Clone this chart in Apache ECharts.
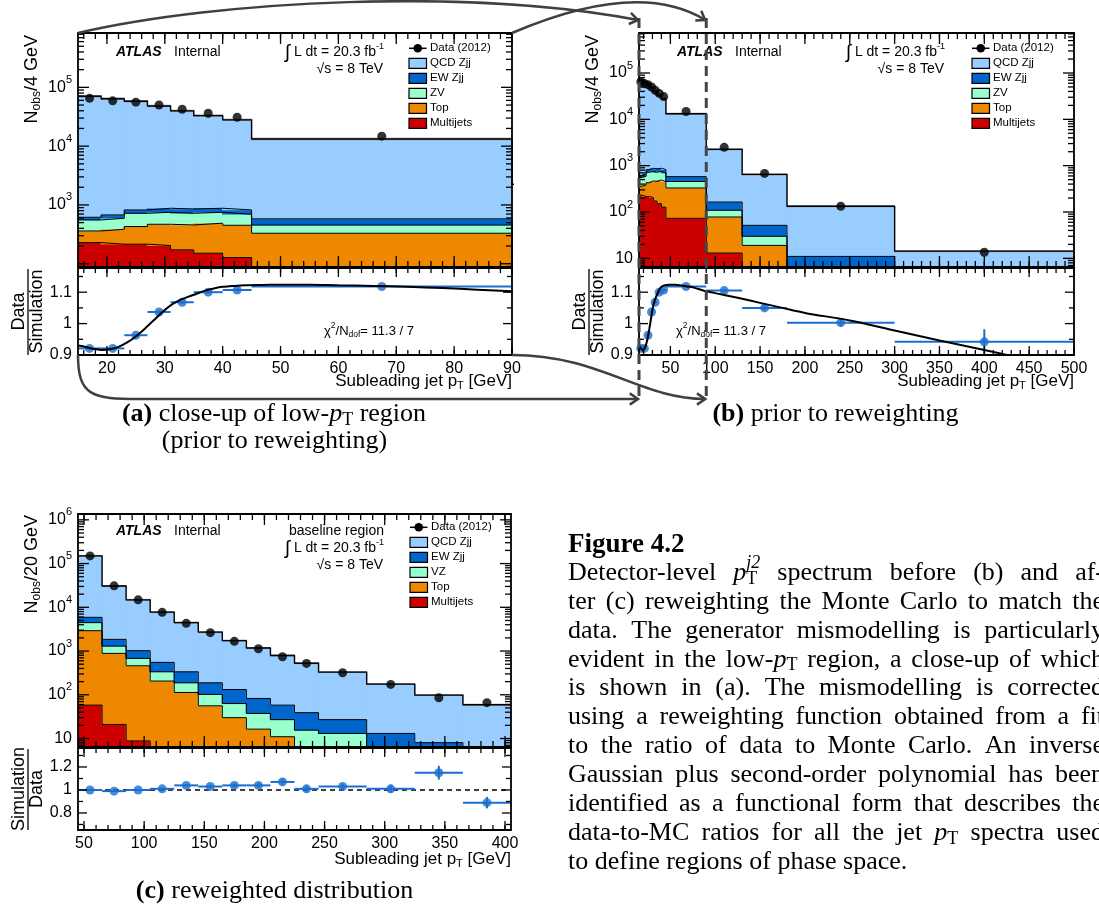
<!DOCTYPE html>
<html>
<head>
<meta charset="utf-8">
<title>Subleading jet pT spectrum</title>
<script src="https://cdn.jsdelivr.net/npm/echarts@6.0.0/dist/echarts.min.js"></script>
<style>
  html, body { margin: 0; padding: 0; background: #fff; }
  #chart { width: 1099px; height: 910px; }
</style>
</head>
<body>
<div id="chart"></div>
<script>
// ---------- spectrum before reweighting (panels a and b), events per 4 GeV ----------
const preEdges    = [15, 19, 23, 27, 31, 35, 40, 45, 90, 130, 180, 300, 500];
const preData     = [65000, 59000, 56000, 50000, 42500, 36300, 31000, 14800, 2490, 680, 133, 13.5];
const preQCD      = [69960, 63380, 57330, 47340, 38940, 32120, 27180, 12660, 2086, 596, 121.6, 9.0];
const preEW       = [61, 83, 101, 128, 134, 128, 128, 125, 55, 21.5, 6.5, 3];
const preZV       = [195, 207, 292, 281, 264, 261, 243, 125, 31, 11, 2, 1];
const preTop      = [132, 171, 214, 265, 285, 338, 324, 257, 65, 18, 2, 1];
const preMJ       = [229, 215, 215, 204, 172, 151, 127, 73, 13, 1, 0.5, 0.3];
const preRatio    = [0.921, 0.921, 0.963, 1.037, 1.068, 1.100, 1.107, 1.118, 1.105, 1.050, 1.003, 0.942];
const preRatioErr = [0.004, 0.004, 0.004, 0.004, 0.005, 0.005, 0.005, 0.004, 0.006, 0.008, 0.012, 0.04];

// fitted reweighting function (data / simulation), sampled along pT
const fitX = [15, 16, 17.5, 19, 20.5, 22, 23.5, 25, 26.5, 28, 29.5, 31, 32.5, 34, 35.5, 37, 38.5, 40, 42, 44,
              47, 50, 55, 60, 66, 72, 78, 84, 90, 100, 125, 150, 175, 200, 250, 300, 350, 400, 430];
const fitY = [0.930, 0.927, 0.920, 0.916, 0.918, 0.926, 0.940, 0.959, 0.983, 1.009, 1.035, 1.058, 1.074, 1.085, 1.095, 1.105, 1.112, 1.117, 1.120, 1.122,
              1.123, 1.124, 1.124, 1.122, 1.120, 1.117, 1.113, 1.108, 1.103, 1.097, 1.082, 1.066, 1.050, 1.034, 1.010, 0.978, 0.946, 0.916, 0.897];

// ---------- spectrum after reweighting (panel c), events per 20 GeV ----------
const postEdges    = [45, 65, 85, 105, 125, 145, 165, 185, 205, 225, 245, 285, 325, 365, 405];
const postData     = [150000, 31000, 14800, 7680, 4300, 2630, 1665, 1130, 740, 522, 319, 173, 85.5, 66];
const postQCD      = [144100, 28850, 13780, 7210, 4134, 2522, 1598, 1093, 734, 488, 302, 162, 90, 54.5];
const postEW       = [1440, 550, 340, 214, 148, 86, 69, 45, 31, 23.5, 14, 8, 5, 3];
const postVZ       = [1540, 415, 219, 130, 75, 46, 33, 21, 16, 11.5, 10, 3, 2, 1];
const postTop      = [2862, 864, 452, 203, 112, 55.5, 29.7, 16.2, 10.9, 4, 3, 2, 1, 0.5];
const postMJ       = [58, 21, 8.8, 3, 1, 0.5, 0.3, 0.2, 0.1, 0.05, 0.05, 0.05, 0.05, 0.05];
const postRatio    = [1.00, 0.99, 1.00, 1.01, 1.04, 1.03, 1.04, 1.04, 1.07, 1.01, 1.03, 1.01, 1.15, 0.89];
const postRatioErr = [0.005, 0.006, 0.008, 0.01, 0.012, 0.015, 0.018, 0.022, 0.028, 0.03, 0.025, 0.035, 0.06, 0.05];

// ---------- tick labels ----------
const lowXLabels      = [20, 30, 40, 50, 60, 70, 80, 90];
const fullXLabels     = [50, 100, 150, 200, 250, 300, 350, 400, 450, 500];
const postXLabels     = [50, 100, 150, 200, 250, 300, 350, 400];
const lowYLabels      = [1e3, 1e4, 1e5];
const fullYLabels     = [10, 1e2, 1e3, 1e4, 1e5];
const postYLabels     = [10, 1e2, 1e3, 1e4, 1e5, 1e6];
const ratioLabels     = [0.9, 1, 1.1];
const postRatioLabels = [0.8, 1, 1.2];

const preNames  = ['QCD Zjj', 'EW Zjj', 'ZV', 'Top', 'Multijets'];
const postNames = ['QCD Zjj', 'EW Zjj', 'VZ', 'Top', 'Multijets'];

// ---------- styling ----------
const SANS  = '"Liberation Sans", Arial, Helvetica, sans-serif';
const SERIF = '"Liberation Serif", "Times New Roman", serif';
const COL = { qcd: '#99ccff', ew: '#0066cc', zv: '#99ffcc', top: '#ee8800', mj: '#cc0000' };
const stackColors = [COL.mj, COL.top, COL.zv, COL.ew, COL.qcd];      // bottom -> top
const legendColors = [COL.qcd, COL.ew, COL.zv, COL.top, COL.mj];
const RATIO_BLUE = '#1a6ecf';

const chart = echarts.init(document.getElementById('chart'), null, { renderer: 'canvas' });
const grids = [], xAxis = [], yAxis = [], series = [];

const logRich = {
  b: { fontSize: 16, fontFamily: SANS, color: '#000', padding: [5, 0, 5, 0] },
  e: { fontSize: 11, fontFamily: SANS, color: '#000', verticalAlign: 'top' }
};
const logFmt = v => {
  const e = Math.round(Math.log10(v));
  return e === 1 ? '{b|10}' : '{b|10}{e|' + e + '}';
};
const linFmt = v => String(Math.round(v * 100) / 100);

function addGrid(r, xr, yr, log, xLab, yLab) {
  const i = grids.length;
  grids.push({ left: r.l, top: r.t, width: r.w, height: r.h, show: false });
  xAxis.push({
    type: 'value', gridIndex: i, min: xr[0], max: xr[1],
    axisLine: { show: false }, axisTick: { show: false }, splitLine: { show: false },
    axisLabel: xLab ? { show: true, customValues: xLab, color: '#000', fontSize: 16, fontFamily: SANS, margin: 6 } : { show: false }
  });
  yAxis.push({
    type: log ? 'log' : 'value', logBase: 10, gridIndex: i, min: yr[0], max: yr[1],
    axisLine: { show: false }, axisTick: { show: false }, splitLine: { show: false },
    axisLabel: {
      show: true, customValues: yLab, color: '#000', fontSize: 16, fontFamily: SANS, margin: 6,
      formatter: log ? logFmt : linFmt, rich: log ? logRich : undefined
    }
  });
  return i;
}

// frame and tick marks on all four sides of a pad
function frameSeries(gi, xr, yr, xMaj, xMin, yMaj, yMin, lx, ly) {
  const d = [[xr[0], yr[0], 2, 0]];
  xMaj.forEach(v => d.push([v, yr[0], 0, lx[0]]));
  xMin.forEach(v => d.push([v, yr[0], 0, lx[1]]));
  yMaj.forEach(v => d.push([xr[0], v, 1, ly[0]]));
  yMin.forEach(v => d.push([xr[0], v, 1, ly[1]]));
  return {
    type: 'custom', xAxisIndex: gi, yAxisIndex: gi, z: 10, silent: true, clip: false, animation: false,
    data: d, encode: { x: 0, y: 1 },
    renderItem(params, api) {
      const cs = params.coordSys;
      const kind = api.value(2), len = api.value(3);
      const st = { stroke: '#000', lineWidth: 1.3 };
      if (kind === 2) {
        return { type: 'rect', shape: { x: cs.x, y: cs.y, width: cs.width, height: cs.height },
                 style: { fill: 'transparent', stroke: '#000', lineWidth: 1.8 } };
      }
      const p = api.coord([api.value(0), api.value(1)]);
      if (kind === 0) {
        const b = cs.y + cs.height;
        return { type: 'group', children: [
          { type: 'line', shape: { x1: p[0], y1: b, x2: p[0], y2: b - len }, style: st },
          { type: 'line', shape: { x1: p[0], y1: cs.y, x2: p[0], y2: cs.y + len }, style: st }
        ] };
      }
      const r = cs.x + cs.width;
      return { type: 'group', children: [
        { type: 'line', shape: { x1: cs.x, y1: p[1], x2: cs.x + len, y2: p[1] }, style: st },
        { type: 'line', shape: { x1: r, y1: p[1], x2: r - len, y2: p[1] }, style: st }
      ] };
    }
  };
}

function range(a, b, step) { const o = []; for (let v = a; v <= b + 1e-9; v += step) o.push(+v.toFixed(6)); return o; }
function logMinors(yr) {
  const o = [];
  for (let d = Math.floor(Math.log10(yr[0])); d <= Math.ceil(Math.log10(yr[1])); d++)
    for (let m = 2; m <= 9; m++) { const v = m * Math.pow(10, d); if (v > yr[0] && v < yr[1]) o.push(v); }
  return o;
}
function logMajors(yr) {
  const o = [];
  for (let d = Math.ceil(Math.log10(yr[0])); d <= Math.floor(Math.log10(yr[1])); d++) o.push(Math.pow(10, d));
  return o;
}

// filled histogram rectangles (overlapped by half a pixel so neighbouring bins join cleanly)
function rectSeries(gi, items, colors, yr, z) {
  return {
    type: 'custom', xAxisIndex: gi, yAxisIndex: gi, silent: true, animation: false, z: z,
    data: items, encode: { x: [0, 1], y: [2, 3] }, clip: true,
    renderItem(params, api) {
      const lo = Math.max(api.value(2), yr[0]);
      const hi = Math.min(api.value(3), yr[1]);
      if (!(hi > lo)) return null;
      const a = api.coord([api.value(0), lo]);
      const b = api.coord([api.value(1), hi]);
      return { type: 'rect', shape: { x: a[0] - 0.6, y: b[1] - 0.3, width: b[0] - a[0] + 1.2, height: a[1] - b[1] + 0.6 },
               style: { fill: colors[api.value(4)] } };
    }
  };
}
function stepSeries(gi, edges, vals, yr, color, width, z) {
  const pts = [];
  vals.forEach((v, i) => {
    const y = Math.min(Math.max(v, yr[0]), yr[1]);
    pts.push([edges[i], y], [edges[i + 1], y]);
  });
  return { type: 'line', xAxisIndex: gi, yAxisIndex: gi, data: pts, symbol: 'none', silent: true,
           animation: false, z: z, clip: true, lineStyle: { color: color, width: width } };
}

// stacked simulation + data for one main pad
function mainPad(gi, edges, comps, data, yr) {
  const n = edges.length - 1;
  const items = [], levels = comps.map(() => []);
  for (let i = 0; i < n; i++) {
    let lo = 1e-3;
    comps.forEach((c, k) => { const hi = lo + c[i]; items.push([edges[i], edges[i + 1], lo, hi, k]); levels[k].push(hi); lo = hi; });
  }
  const total = levels[levels.length - 1];
  series.push(rectSeries(gi, items, stackColors, yr, 1));
  for (let k = 0; k < levels.length - 1; k++) series.push(stepSeries(gi, edges, levels[k], yr, '#000', 1, 2));
  series.push(rectSeries(gi, total.map((t, i) => [edges[i], edges[i + 1], t / 1.035, t * 1.035, 0]), ['#8c8c8c'], yr, 3));
  series.push(stepSeries(gi, edges, total, yr, '#000', 1.4, 4));
  series.push({
    type: 'scatter', xAxisIndex: gi, yAxisIndex: gi, silent: true, animation: false, z: 5, clip: true,
    symbol: 'circle', symbolSize: 9, itemStyle: { color: '#000' },
    data: data.map((v, i) => [(edges[i] + edges[i + 1]) / 2, v])
  });
}

// ratio points with bin-width and error bars
function ratioPad(gi, edges, vals, errs) {
  const items = vals.map((v, i) => [(edges[i] + edges[i + 1]) / 2, v, edges[i], edges[i + 1], v - errs[i], v + errs[i]]);
  series.push({
    type: 'custom', xAxisIndex: gi, yAxisIndex: gi, silent: true, animation: false, z: 4, clip: true,
    data: items, encode: { x: [0, 2, 3], y: [1, 4, 5] },
    renderItem(params, api) {
      const c = api.coord([api.value(0), api.value(1)]);
      const l = api.coord([api.value(2), api.value(1)]);
      const r = api.coord([api.value(3), api.value(1)]);
      const t = api.coord([api.value(0), api.value(5)]);
      const b = api.coord([api.value(0), api.value(4)]);
      const st = { stroke: RATIO_BLUE, lineWidth: 2 };
      return { type: 'group', children: [
        { type: 'line', shape: { x1: l[0], y1: c[1], x2: r[0], y2: c[1] }, style: st },
        { type: 'line', shape: { x1: c[0], y1: t[1], x2: c[0], y2: b[1] }, style: st }
      ] };
    }
  });
  series.push({
    type: 'scatter', xAxisIndex: gi, yAxisIndex: gi, silent: true, animation: false, z: 5, clip: true,
    symbol: 'circle', symbolSize: 9, itemStyle: { color: RATIO_BLUE },
    data: items.map(it => [it[0], it[1]])
  });
}
function fitLine(gi) {
  series.push({
    type: 'line', xAxisIndex: gi, yAxisIndex: gi, silent: true, animation: false, z: 6, clip: true,
    symbol: 'none', smooth: 0.3, lineStyle: { color: '#000', width: 2 },
    data: fitX.map((x, i) => [x, fitY[i]])
  });
}

// ---------- pads ----------
const lowX = [15, 90], fullX = [15, 500], postX = [45, 405];
const lowY = [88, 8.4e5], fullY = [6.5, 7.3e5], postY = [6.4, 1.36e6];
const ratioY = [0.9, 1.177], postRatioY = [0.652, 1.365];

const padA  = { l: 78,  t: 33,  w: 434, h: 234 };
const padAr = { l: 78,  t: 268, w: 434, h: 87 };
const padB  = { l: 639, t: 33,  w: 435, h: 234 };
const padBr = { l: 639, t: 268, w: 435, h: 87 };
const padC  = { l: 78,  t: 514, w: 433, h: 233 };
const padCr = { l: 78,  t: 748, w: 433, h: 82 };

const gA  = addGrid(padA,  lowX,  lowY,  true,  null,        lowYLabels);
const gAr = addGrid(padAr, lowX,  ratioY, false, lowXLabels, ratioLabels);
const gB  = addGrid(padB,  fullX, fullY, true,  null,        fullYLabels);
const gBr = addGrid(padBr, fullX, ratioY, false, fullXLabels, ratioLabels);
const gC  = addGrid(padC,  postX, postY, true,  null,        postYLabels);
const gCr = addGrid(padCr, postX, postRatioY, false, postXLabels, postRatioLabels);

mainPad(gA, preEdges, [preMJ, preTop, preZV, preEW, preQCD], preData, lowY);
mainPad(gB, preEdges, [preMJ, preTop, preZV, preEW, preQCD], preData, fullY);
mainPad(gC, postEdges, [postMJ, postTop, postVZ, postEW, postQCD], postData, postY);

ratioPad(gAr, preEdges, preRatio, preRatioErr); fitLine(gAr);
ratioPad(gBr, preEdges, preRatio, preRatioErr); fitLine(gBr);
series.push({
  type: 'line', xAxisIndex: gCr, yAxisIndex: gCr, silent: true, animation: false, z: 3, symbol: 'none',
  lineStyle: { color: '#000', width: 1.3, type: [5, 4] }, data: [[postX[0], 1], [postX[1], 1]]
});
ratioPad(gCr, postEdges, postRatio, postRatioErr);

series.push(frameSeries(gA,  lowX,  lowY,  lowXLabels, range(16, 90, 2), logMajors(lowY), logMinors(lowY), [11, 6], [11, 6]));
series.push(frameSeries(gAr, lowX,  ratioY, lowXLabels, range(16, 90, 2), [0.9, 1, 1.1], [0.95, 1.05, 1.15], [9, 5], [9, 5]));
series.push(frameSeries(gB,  fullX, fullY, fullXLabels, range(20, 500, 10), logMajors(fullY), logMinors(fullY), [11, 6], [11, 6]));
series.push(frameSeries(gBr, fullX, ratioY, fullXLabels, range(20, 500, 10), [0.9, 1, 1.1], [0.95, 1.05, 1.15], [9, 5], [9, 5]));
series.push(frameSeries(gC,  postX, postY, postXLabels, range(50, 400, 10), logMajors(postY), logMinors(postY), [11, 6], [11, 6]));
series.push(frameSeries(gCr, postX, postRatioY, postXLabels, range(50, 400, 10), [0.8, 1, 1.2], [0.7, 0.9, 1.1, 1.3], [9, 5], [9, 5]));

chart.setOption({ animation: false, backgroundColor: '#fff', grid: grids, xAxis: xAxis, yAxis: yAxis, series: series });

// ---------- text helpers ----------
const mctx = document.createElement('canvas').getContext('2d');
function fontOf(r, base) {
  const size = r.size || base.size;
  const italic = r.italic !== undefined ? r.italic : base.italic;
  const bold = r.bold !== undefined ? r.bold : base.bold;
  return (italic ? 'italic ' : '') + (bold ? 'bold ' : '') + size + 'px ' + (r.family || base.family);
}
function layoutRuns(runs, base) {
  let cx = 0, prevX = 0;
  const out = [];
  runs.forEach(r => {
    const font = fontOf(r, base);
    mctx.font = font;
    const w = mctx.measureText(r.t).width;
    let px;
    if (r.over) { px = prevX; cx = Math.max(cx, prevX + w); }
    else { px = cx; prevX = cx; cx += w; }
    out.push({ x: px, font: font, t: r.t, dy: r.dy || 0 });
  });
  return { items: out, width: cx };
}
function runText(runs, base, x, y, align) {
  const L = layoutRuns(runs, base);
  const x0 = align === 'right' ? x - L.width : align === 'center' ? x - L.width / 2 : x;
  return L.items.map(it => ({
    type: 'text', silent: true, z: 50, x: x0 + it.x, y: y + it.dy,
    style: { text: it.t, font: it.font, fill: base.fill || '#000', textAlign: 'left', textVerticalAlign: 'middle', align: 'left', verticalAlign: 'middle' }
  }));
}
function rotated(runs, base, x, y) {
  return { type: 'group', x: x, y: y, rotation: Math.PI / 2, silent: true, z: 50, children: runText(runs, base, 0, 0, 'right') };
}
function rotatedCentered(runs, base, x, y) {
  return { type: 'group', x: x, y: y, rotation: Math.PI / 2, silent: true, z: 50, children: runText(runs, base, 0, 0, 'center') };
}
function parseWord(w, subSize) {
  const parts = w.split(/(\$[^$]*\$)/).filter(s => s);
  const runs = [];
  parts.forEach(p => {
    if (p[0] === '$') {
      const m = p.slice(1, -1);
      const sp = m.split('^');
      const bs = sp[0].split('_');
      runs.push({ t: bs[0], italic: true });
      if (bs[1]) runs.push({ t: bs[1], size: subSize, dy: 6, italic: false });
      if (sp[1]) runs.push({ t: sp[1], size: subSize, dy: -10, italic: true, over: true });
    } else runs.push({ t: p });
  });
  return runs;
}
function justified(lines, base, left, right, top, lh, subSize) {
  const els = [];
  mctx.font = fontOf({}, base);
  const space = mctx.measureText(' ').width;
  lines.forEach((line, li) => {
    const words = line.split(/\s+/).map(w => parseWord(w, subSize));
    const lays = words.map(w => layoutRuns(w, base));
    const sum = lays.reduce((s, l) => s + l.width, 0);
    const gap = li === lines.length - 1 ? space : (right - left - sum) / (words.length - 1);
    let x = left;
    const y = top + li * lh;
    words.forEach((w, wi) => { els.push(...runText(w, base, x, y, 'left')); x += lays[wi].width + gap; });
  });
  return els;
}

const g = [];
const sans = (size, extra) => Object.assign({ size: size, family: SANS }, extra || {});
const serif = (size, extra) => Object.assign({ size: size, family: SERIF }, extra || {});

// labels inside each main pad
function padLabels(p, y0, extraLine) {
  g.push(...runText([{ t: 'ATLAS', bold: true, italic: true }], sans(14), p.l + 38, y0, 'left'));
  g.push(...runText([{ t: 'Internal' }], sans(14), p.l + 96, y0, 'left'));
  let y = y0;
  if (extraLine) { g.push(...runText([{ t: extraLine }], sans(14), p.l + 306, y, 'right')); y += 17; }
  g.push(...runText([{ t: '\u222B', size: 19, dy: 1 }, { t: ' L dt = 20.3 fb' }, { t: '-1', size: 9, dy: -5 }], sans(14), p.l + 306, y, 'right'));
  g.push(...runText([{ t: '\u221As = 8 TeV' }], sans(14), p.l + 305, y + 17, 'right'));
}
function legend(x, y0, names) {
  const w = 17.5, h = 10, dy = 15;
  g.push({ type: 'line', silent: true, z: 50, shape: { x1: x, y1: y0, x2: x + w, y2: y0 }, style: { stroke: '#000', lineWidth: 1.5 } });
  g.push({ type: 'circle', silent: true, z: 51, shape: { cx: x + w / 2, cy: y0, r: 4.3 }, style: { fill: '#000' } });
  g.push(...runText([{ t: 'Data (2012)' }], sans(11.5), x + w + 3.5, y0, 'left'));
  names.forEach((n, i) => {
    const y = y0 + dy * (i + 1);
    g.push({ type: 'rect', silent: true, z: 50, shape: { x: x, y: y - h / 2, width: w, height: h },
             style: { fill: legendColors[i], stroke: '#000', lineWidth: 1.2 } });
    g.push(...runText([{ t: n }], sans(11.5), x + w + 3.5, y, 'left'));
  });
}
const xTitle = [{ t: 'Subleading jet p' }, { t: 'T', size: 11, dy: 5 }, { t: ' [GeV]' }];
const chi2 = [{ t: '\u03C7' }, { t: '2', size: 8.5, dy: -5 }, { t: '/N' }, { t: 'dof', size: 8.5, dy: 4 }, { t: '= 11.3 / 7' }];

function ratioTitle(p, pr, top, bottom) {
  const cy = pr.t + pr.h / 2;
  g.push(rotatedCentered([{ t: top }], sans(18), p.l - 59, cy));
  g.push({ type: 'line', silent: true, z: 50, shape: { x1: p.l - 50, y1: pr.t + 1, x2: p.l - 50, y2: pr.t + pr.h }, style: { stroke: '#000', lineWidth: 1.3 } });
  g.push(rotatedCentered([{ t: bottom }], sans(18), p.l - 41, cy));
}

// panel a
padLabels(padA, 51.7);
legend(padA.l + 331, 48.3, preNames);
g.push(rotated([{ t: 'N' }, { t: 'obs', size: 12, dy: 5 }, { t: '/4 GeV' }], sans(18), padA.l - 46, padA.t + 2));
ratioTitle(padA, padAr, 'Data', 'Simulation');
g.push(...runText(chi2, sans(13), padA.l + 246, 331, 'left'));
g.push(...runText(xTitle, sans(17), padA.l + padA.w, 381, 'right'));

// panel b
padLabels(padB, 51.7);
legend(padB.l + 333, 48.3, preNames);
g.push(rotated([{ t: 'N' }, { t: 'obs', size: 12, dy: 5 }, { t: '/4 GeV' }], sans(18), padB.l - 46, padB.t + 2));
ratioTitle(padB, padBr, 'Data', 'Simulation');
g.push(...runText(chi2, sans(13), padB.l + 37, 331, 'left'));
g.push(...runText(xTitle, sans(17), padB.l + padB.w, 381, 'right'));

// panel c
padLabels(padC, 530.7, 'baseline region');
legend(padC.l + 332, 527.3, postNames);
g.push(rotated([{ t: 'N' }, { t: 'obs', size: 12, dy: 5 }, { t: '/20 GeV' }], sans(18), padC.l - 46, padC.t + 1));
ratioTitle(padC, padCr, 'Simulation', 'Data');
g.push(...runText(xTitle, sans(17), padC.l + padC.w, 859, 'right'));

// sub-figure captions
g.push(...runText([{ t: '(a)', bold: true }, { t: ' close-up of low-' }, { t: 'p', italic: true }, { t: 'T', size: 18, dy: 6 }, { t: ' region' }], serif(26), 274, 414, 'center'));
g.push(...runText([{ t: '(prior to reweighting)' }], serif(26), 274.5, 441, 'center'));
g.push(...runText([{ t: '(b)', bold: true }, { t: ' prior to reweighting' }], serif(26), 835.5, 414, 'center'));
g.push(...runText([{ t: '(c)', bold: true }, { t: ' reweighted distribution' }], serif(26), 274.5, 891, 'center'));

// figure caption
const captionLines = [
  'Detector-level $p_T^j2$ spectrum before (b) and af-',
  'ter (c) reweighting the Monte Carlo to match the',
  'data. The generator mismodelling is particularly',
  'evident in the low-$p_T$ region, a close-up of which',
  'is shown in (a). The mismodelling is corrected',
  'using a reweighting function obtained from a fit',
  'to the ratio of data to Monte Carlo. An inverse',
  'Gaussian plus second-order polynomial has been',
  'identified as a functional form that describes the',
  'data-to-MC ratios for all the jet $p_T$ spectra used',
  'to define regions of phase space.'
];
g.push(...runText([{ t: 'Figure 4.2', bold: true }], serif(27), 568, 545, 'left'));
g.push(...justified(captionLines, serif(26), 568, 1104, 573, 28.9, 18));

// connectors: range of panel a shown on panel b
const dxL = chart.convertToPixel({ xAxisIndex: gB }, lowX[0]);
const dxR = chart.convertToPixel({ xAxisIndex: gB }, lowX[1]);
const CONN = '#404040';
function chevron(tx, ty, ang) {
  const L = 10, s = 0.6;
  return { type: 'polyline', silent: true, z: 60,
    shape: { points: [[tx - L * Math.cos(ang - s), ty - L * Math.sin(ang - s)], [tx, ty], [tx - L * Math.cos(ang + s), ty - L * Math.sin(ang + s)]] },
    style: { stroke: CONN, lineWidth: 2.5, fill: null } };
}
function curve(p0, c1, c2, p3) {
  g.push({ type: 'bezierCurve', silent: true, z: 60,
    shape: { x1: p0[0], y1: p0[1], cpx1: c1[0], cpy1: c1[1], cpx2: c2[0], cpy2: c2[1], x2: p3[0], y2: p3[1] },
    style: { stroke: CONN, lineWidth: 2.5, fill: null } });
  g.push(chevron(p3[0], p3[1], Math.atan2(p3[1] - c2[1], p3[0] - c2[0])));
}
[dxL, dxR].forEach(x => g.push({ type: 'line', silent: true, z: 60, shape: { x1: x, y1: 18, x2: x, y2: 402 },
  style: { stroke: '#454545', lineWidth: 3, lineDash: [10, 6] } }));
curve([padA.l, padA.t], [220, 0], [470, -12], [dxL - 1, 20]);
curve([padA.l + padA.w, padA.t], [575, 6], [650, -14], [dxR - 1, 20]);
g.push({ type: 'bezierCurve', silent: true, z: 60,
  shape: { x1: padA.l, y1: padAr.t + padAr.h, cpx1: padA.l, cpy1: 396, cpx2: 92, cpy2: 399, x2: 140, y2: 399 },
  style: { stroke: CONN, lineWidth: 2.5, fill: null } });
g.push({ type: 'line', silent: true, z: 60, shape: { x1: 140, y1: 399, x2: dxL - 1, y2: 399 }, style: { stroke: CONN, lineWidth: 2.5 } });
g.push(chevron(dxL - 1, 399, 0));
curve([padA.l + padA.w, padAr.t + padAr.h], [600, 355], [640, 399], [dxR - 1, 399]);

chart.setOption({ graphic: { elements: g } });
</script>
</body>
</html>
